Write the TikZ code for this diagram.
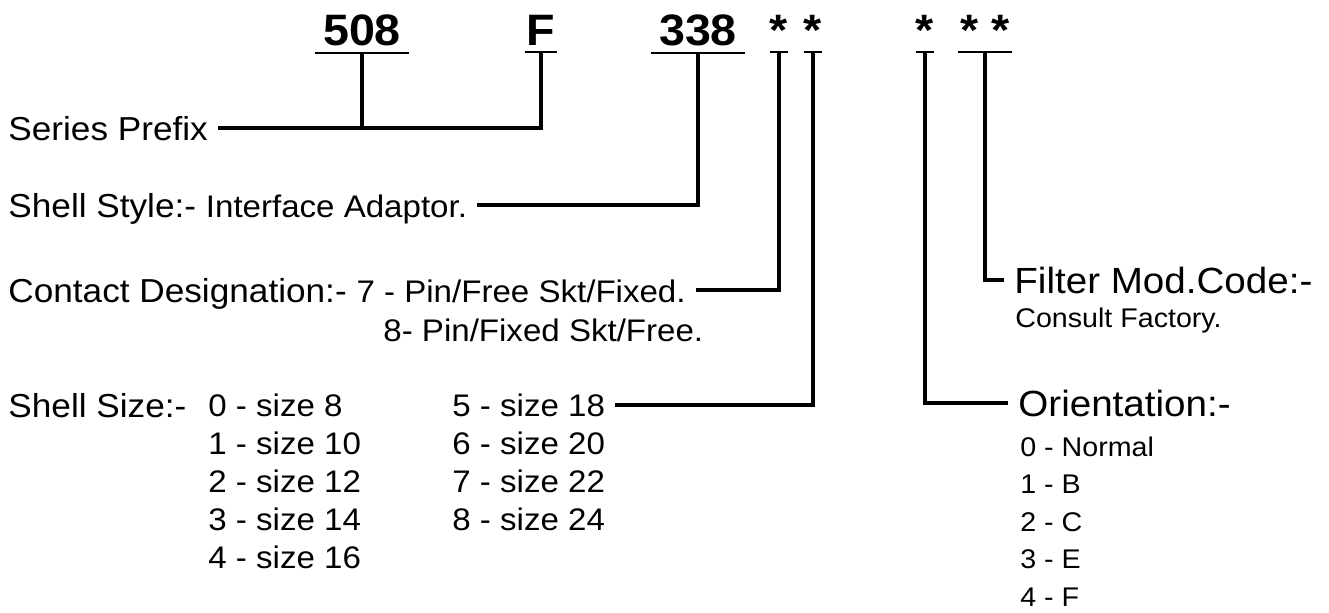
\documentclass[tikz,border=0pt]{standalone}
\usepackage{fontspec}
\setmainfont[FakeStretch=1.06]{Liberation Sans}
\usetikzlibrary{positioning}
\newcommand{\bigsz}{\fontsize{16.6}{19}\selectfont}
\newcommand{\smallsz}{\fontsize{15.6}{18}\selectfont}
\newcommand{\rightsz}{\fontsize{18.2}{20}\selectfont}
\newcommand{\listsz}{\fontsize{13.5}{16}\selectfont}
\tikzset{
  code/.style={font=\fontsize{22}{24}\selectfont\bfseries, anchor=base, inner xsep=4pt, inner ysep=3pt},
  lead/.style={line width=1.6pt},
  uline/.style={line width=1pt},
  lbl/.style={anchor=west, inner xsep=5pt, inner ysep=0pt, text depth=0pt},
}
\begin{document}
\begin{tikzpicture}[x=0.5pt,y=-0.5pt]
\useasboundingbox (0,0) rectangle (1329,613);
% part number
\node[code] (n508) at (362,46) {508};
\node[code, inner xsep=0.5pt] (nF) at (541,46) {F};
\node[code] (n338) at (698,46) {338};
\node[code, inner xsep=0pt] (st1) at (779,46) {*};
\node[code, inner xsep=0pt] (st2) at (813,46) {*};
\node[code, inner xsep=0pt] (st3) at (925,46) {*};
\node[code, inner xsep=1pt] (st45) at (985,46) {* *};
\foreach \n in {n508,nF,n338,st1,st2,st3,st45} {\draw[uline] (\n.south west) -- (\n.south east);}
% left labels
\node[lbl, font=\bigsz] (series) at (-2,128) {Series Prefix};
\node[lbl, font=\bigsz] (style) at (-2,205) {Shell Style:- {\smallsz Interface Adaptor.}};
\node[lbl, font=\bigsz] (contact) at (-2,290) {Contact Designation:- {\smallsz 7 - Pin/Free Skt/Fixed.}};
\node[lbl, font=\smallsz] (contact2) at (373,330) {8- Pin/Fixed Skt/Free.};
\node[lbl, font=\bigsz] (shell) at (-2,405) {Shell Size:-};
\foreach \i/\s in {0/8,1/10,2/12,3/14,4/16} {
  \node[lbl, font=\smallsz] (sz\i) at (198,{405+38*\i}) {\i\ - size \s};
}
\foreach \i/\s/\r in {5/18/0,6/20/1,7/22/2,8/24/3} {
  \node[lbl, font=\smallsz] (sz\i) at (442,{405+38*\r}) {\i\ - size \s};
}
% right labels
\node[lbl, font=\rightsz] (filter) at (1004,280) {Filter Mod.Code:-};
\node[lbl, font=\listsz] (consult) at (1005,318) {Consult Factory.};
\node[lbl, font=\rightsz] (orient) at (1008,403) {Orientation:-};
\foreach \i/\t in {0/Normal,1/B,2/C,3/E,4/F} {
  \node[lbl, font=\listsz] (or\i) at (1010,{447+37.5*\i}) {\i\ - \t};
}
% leads
\draw[lead] (n508.south) -- (n508.south |- series.east);
\draw[lead] (series.east) -| (nF.south);
\draw[lead] (style.east) -| (n338.south);
\draw[lead] (contact.east) -| (st1.south);
\draw[lead] (sz5.east) -| (st2.south);
\draw[lead] (orient.west) -| (st3.south);
\draw[lead] (filter.west) -| (st45.south);
\end{tikzpicture}
\end{document}
